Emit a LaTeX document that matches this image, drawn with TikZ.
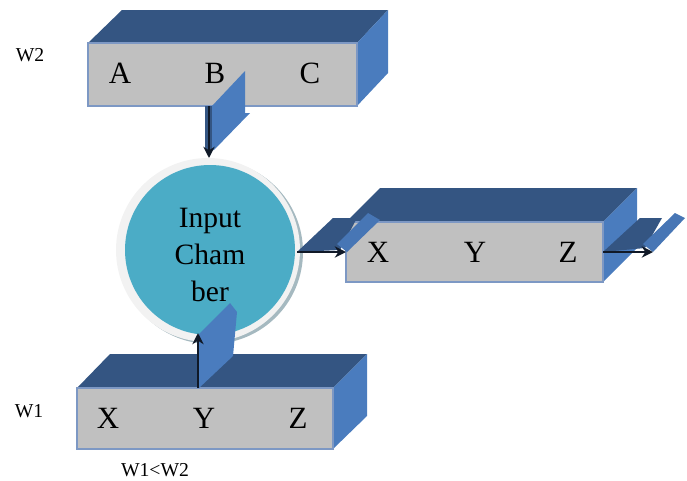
\documentclass[tikz,border=0pt]{standalone}
\usepackage{fontspec}
\setmainfont{Liberation Serif}
\usetikzlibrary{arrows.meta}
\definecolor{boxtop}{RGB}{52,85,130}
\definecolor{boxside}{RGB}{74,124,190}
\definecolor{boxfront}{RGB}{192,192,192}
\definecolor{boxedge}{RGB}{125,152,196}
\definecolor{chamber}{RGB}{75,172,198}
\definecolor{ringshade}{RGB}{165,185,192}
\begin{document}
\begin{tikzpicture}[x=0.025cm,y=-0.025cm,
  topface/.style={fill=boxtop},
  sideface/.style={fill=boxside},
  frontface/.style={fill=boxfront,draw=boxedge,line width=1pt},
  lbl/.style={font=\fontsize{22}{24}\selectfont},
  small/.style={font=\fontsize{14}{16}\selectfont},
  arrowline/.style={-{Stealth[length=8pt,width=8pt]},line width=2pt,draw=black!70!boxtop}]
\useasboundingbox (0,0) rectangle (687,481);

% chamber
\fill[ringshade] (211,252) circle [radius=92];
\fill[gray!10] (208,250) circle [radius=92];
\fill[chamber] (210,250) circle [radius=85];
\node[align=center,font=\fontsize{21}{26}\selectfont] (chamber) at (210,255) {Input\\Cham\\ber};

% top box
\fill[topface] (88,43) -- (122,10) -- (388,10) -- (357,43) -- cycle;
\fill[sideface] (357,43) -- (388,10) -- (388,73) -- (357,106) -- cycle;
\draw[frontface] (88,43) rectangle (357,106);
\node[lbl] (a) at (120,73) {A};
\node[lbl] (b) at (215,73) {B};
\node[lbl] (c) at (310,73) {C};

% right box
\fill[topface] (346,222) -- (380,188) -- (637,188) -- (603,222) -- cycle;
\fill[sideface] (603,222) -- (637,188) -- (637,248) -- (603,282) -- cycle;
\draw[frontface] (346,222) rectangle (603,282);
\node[lbl] (x2) at (378,252) {X};
\node[lbl] (y2) at (475,252) {Y};
\node[lbl] (z2) at (568,252) {Z};

% bottom box
\fill[topface] (77,388) -- (110,354) -- (367,354) -- (333,388) -- cycle;
\fill[sideface] (333,388) -- (367,354) -- (367,416) -- (333,449) -- cycle;
\draw[frontface] (77,388) rectangle (333,449);
\node[lbl] (x1) at (108,418) {X};
\node[lbl] (y1) at (204,418) {Y};
\node[lbl] (z1) at (298,418) {Z};

% arrow top box -> chamber
\coordinate (t1) at (209,106);
\coordinate (t2) at (209,158);
\fill[boxtop] (205,106) -- (214,106) -- (214,150) -- (205,150) -- cycle;
\fill[boxside] (212,106) -- (245,71) -- (245,113) -- (250,113) -- (214,150) -- (212,150) -- cycle;
\draw[arrowline] (t1) -- (t2);

% arrow bottom box -> chamber
\coordinate (u1) at (198,388);
\coordinate (u2) at (198,333);
\fill[boxside] (199,388) -- (199,334) -- (230,303) -- (237,312) -- (233,356) -- cycle;
\draw[arrowline] (u1) -- (u2);

% arrow chamber -> right box
\coordinate (r1) at (297,252);
\coordinate (r2) at (346,252);
\fill[boxtop] (297,252) -- (333,218) -- (357,218) -- (340,250) -- cycle;
\fill[boxside!85!boxtop] (337,244) -- (368,213) -- (380,220) -- (347,252) -- cycle;
\draw[arrowline] (r1) -- (r2);

% arrow out of right box
\coordinate (s1) at (603,252);
\coordinate (s2) at (653,252);
\fill[boxtop] (603,252) -- (640,218) -- (662,218) -- (645,248) -- cycle;
\fill[boxside!85!boxtop] (643,244) -- (675,213) -- (685,218) -- (653,252) -- cycle;
\draw[arrowline] (s1) -- (s2);

\node[small] (w2) at (30,55) {W2};
\node[small] (w1) at (29,411) {W1};
\node[small] (cmp) at (155,470) {W1<W2};
\end{tikzpicture}
\end{document}
